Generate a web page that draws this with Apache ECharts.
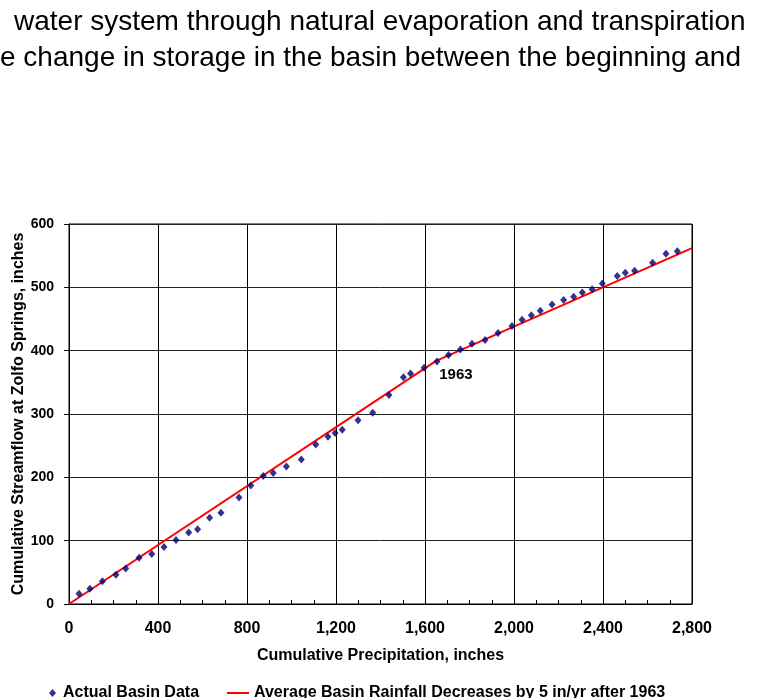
<!DOCTYPE html>
<html>
<head>
<meta charset="utf-8">
<script src="https://cdn.jsdelivr.net/npm/echarts@6/dist/echarts.min.js"></script>
<style>
html,body{margin:0;padding:0;background:#fff;}
#c{width:758px;height:698px;}
</style>
</head>
<body>
<div id="c"></div>
<script>
// Actual basin data: cumulative precipitation (x) vs cumulative streamflow (y), inches
const precipX = [45, 94, 150, 211, 255, 315, 372, 427, 481, 538, 578, 632, 683, 764, 817, 873, 918,
  977, 1044, 1109, 1164, 1196, 1228, 1299, 1365, 1438, 1503, 1535, 1596, 1654, 1706, 1759, 1811,
  1870, 1928, 1991, 2036, 2078, 2118, 2171, 2223, 2268, 2307, 2351, 2397, 2464, 2500, 2542, 2623, 2683, 2734];
const flowY = [16, 24, 36, 46, 56, 73, 79, 90, 101, 113, 118, 136, 144, 168, 187, 202, 207,
  217, 228, 252, 264, 270, 275, 290, 302, 330, 358, 364, 373, 383, 393, 402, 411,
  417, 428, 439, 449, 456, 463, 473, 480, 485, 492, 497, 506, 518, 523, 526, 539, 553, 557];
// Average basin rainfall line (break in 1963)
const lineX = [0, 1650, 2800];
const lineY = [0, 384, 562];
const xTicks = [0, 400, 800, 1200, 1600, 2000, 2400, 2800];
const yTicks = [0, 100, 200, 300, 400, 500, 600];
const seriesNames = ['Actual Basin Data', 'Average Basin Rainfall Decreases by 5 in/yr after 1963'];
const breakLabel = '1963';

const FONT = '"Liberation Sans", Arial, sans-serif';
const chart = echarts.init(document.getElementById('c'), null, {renderer: 'canvas'});
const fmt = v => v.toLocaleString('en-US');

chart.setOption({
  animation: false,
  backgroundColor: '#fff',
  textStyle: {fontFamily: FONT},
  graphic: [
    {type: 'text', left: 14, top: 8, style: {text: 'water system through natural evaporation and transpiration', font: '28px ' + FONT, fill: '#000'}},
    {type: 'text', left: 0, top: 44, style: {text: 'e change in storage in the basin between the beginning and', font: '28px ' + FONT, fill: '#000'}}
  ],
  grid: {left: 69, right: 66, top: 224, bottom: 94, show: true, borderColor: '#000', borderWidth: 1,
         containLabel: false, outerBoundsMode: 'none'},
  xAxis: {
    type: 'value', min: xTicks[0], max: xTicks[xTicks.length - 1], interval: 400,
    name: 'Cumulative Precipitation, inches', nameLocation: 'middle', nameGap: 44, nameMoveOverlap: false,
    nameTextStyle: {fontWeight: 'bold', fontSize: 16, color: '#000', fontFamily: FONT},
    axisLine: {lineStyle: {color: '#000'}},
    axisTick: {inside: true, length: 4, lineStyle: {color: '#000'}},
    minorTick: {show: true, splitNumber: 4, length: 4, lineStyle: {color: '#000'}},
    axisLabel: {formatter: fmt, fontWeight: 'bold', fontSize: 16, color: '#000', margin: 17, fontFamily: FONT},
    splitLine: {show: true, lineStyle: {color: '#000', width: 1}}
  },
  yAxis: {
    type: 'value', min: yTicks[0], max: yTicks[yTicks.length - 1], interval: 100,
    name: 'Cumulative Streamflow at Zolfo Springs, inches', nameLocation: 'middle', nameGap: 42, nameMoveOverlap: false,
    nameTextStyle: {fontWeight: 'bold', fontSize: 16, color: '#000', fontFamily: FONT},
    axisLine: {show: true, lineStyle: {color: '#000'}},
    axisTick: {show: true, length: 5, lineStyle: {color: '#000'}},
    axisLabel: {fontWeight: 'bold', fontSize: 14, color: '#000', margin: 15, fontFamily: FONT},
    splitLine: {show: true, lineStyle: {color: '#222', width: 1}}
  },
  legend: [
    {data: [seriesNames[0]], left: 44, top: 680, itemWidth: 7, itemHeight: 8, icon: 'diamond', itemGap: 0,
     textStyle: {fontWeight: 'bold', fontSize: 16, color: '#000', fontFamily: FONT, padding: [0, 0, 0, 2]}},
    {data: [seriesNames[1]], left: 222, top: 680, itemWidth: 22, itemHeight: 2, icon: 'rect', itemGap: 0,
     textStyle: {fontWeight: 'bold', fontSize: 16, color: '#000', fontFamily: FONT}}
  ],
  series: [
    {
      name: seriesNames[0], type: 'scatter', symbol: 'diamond', symbolSize: [7, 8],
      itemStyle: {color: '#000070'},
      data: precipX.map((x, i) => [x, flowY[i]]),
      z: 3
    },
    {
      name: seriesNames[1], type: 'line', showSymbol: false, symbol: 'none',
      lineStyle: {color: '#ff0000', width: 2}, itemStyle: {color: '#ff0000'},
      data: lineX.map((x, i) => [x, lineY[i]]),
      markPoint: {
        symbol: 'circle', symbolSize: 0,
        label: {show: true, formatter: breakLabel, fontWeight: 'bold', fontSize: 15, color: '#000', fontFamily: FONT},
        data: [{coord: [1739, 362]}]
      },
      z: 2
    }
  ]
});
</script>
</body>
</html>
